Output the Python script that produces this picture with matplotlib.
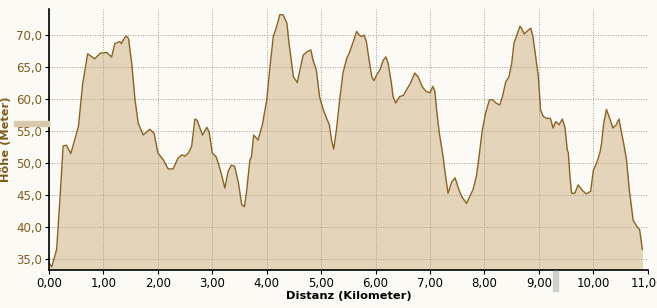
import numpy as np
import matplotlib.pyplot as plt
from matplotlib.patches import Rectangle

# distance (km) and elevation (m)
dist_km = [0.00, 0.05, 0.14, 0.20, 0.26, 0.32, 0.40, 0.54, 0.62, 0.71, 0.84, 0.94,
           1.06, 1.15, 1.21, 1.30, 1.33, 1.41, 1.46, 1.52, 1.58, 1.64, 1.73, 1.85,
           1.93, 2.00, 2.10, 2.19, 2.28, 2.37, 2.44, 2.50, 2.56, 2.62, 2.68, 2.72,
           2.82, 2.90, 2.94, 3.00, 3.07, 3.11, 3.17, 3.23, 3.29, 3.35, 3.41, 3.48,
           3.54, 3.59, 3.63, 3.69, 3.72, 3.76, 3.84, 3.92, 4.00, 4.06, 4.12, 4.18,
           4.24, 4.30, 4.37, 4.41, 4.49, 4.56, 4.61, 4.67, 4.74, 4.81, 4.85, 4.91,
           4.97, 5.04, 5.10, 5.15, 5.19, 5.23, 5.28, 5.34, 5.40, 5.47, 5.52, 5.59,
           5.65, 5.70, 5.74, 5.79, 5.83, 5.88, 5.93, 5.97, 6.02, 6.08, 6.14, 6.19,
           6.23, 6.29, 6.32, 6.37, 6.44, 6.51, 6.57, 6.64, 6.72, 6.78, 6.86, 6.93,
           7.00, 7.05, 7.09, 7.12, 7.17, 7.21, 7.24, 7.27, 7.33, 7.40, 7.46, 7.52,
           7.58, 7.67, 7.73, 7.79, 7.85, 7.90, 7.96, 8.02, 8.09, 8.15, 8.21, 8.28,
           8.33, 8.39, 8.45, 8.50, 8.54, 8.59, 8.65, 8.68, 8.73, 8.78, 8.85, 8.89,
           8.94, 8.99, 9.03, 9.08, 9.14, 9.21, 9.26, 9.31, 9.37, 9.43, 9.48, 9.52,
           9.54, 9.57, 9.60, 9.66, 9.72, 9.79, 9.87, 9.95, 10.00, 10.06, 10.12, 10.15,
           10.19, 10.24, 10.30, 10.36, 10.42, 10.47, 10.52, 10.56, 10.61, 10.66, 10.68, 10.73,
           10.80, 10.85, 10.90]
elev_m = [34.4, 33.8, 36.5, 44.3, 52.7, 52.8, 51.5, 55.7, 62.5, 67.1, 66.3, 67.2,
          67.3, 66.6, 68.7, 69.0, 68.7, 69.9, 69.5, 65.6, 59.9, 56.2, 54.4, 55.3,
          54.7, 51.6, 50.5, 49.1, 49.1, 50.8, 51.3, 51.1, 51.6, 52.6, 56.9, 56.7,
          54.4, 55.6, 54.9, 51.6, 51.0, 50.0, 48.2, 46.1, 48.7, 49.7, 49.5, 46.9,
          43.5, 43.2, 45.6, 50.5, 51.0, 54.4, 53.6, 56.0, 59.9, 65.1, 69.8, 71.3,
          73.2, 73.2, 71.9, 68.7, 63.5, 62.6, 64.6, 66.9, 67.4, 67.7, 66.1, 64.6,
          60.4, 58.3, 57.0, 56.0, 53.6, 52.2, 55.2, 59.9, 64.1, 66.4, 67.3, 69.0,
          70.6, 70.0, 69.8, 70.0, 69.0, 66.1, 63.5, 62.9, 63.8, 64.6, 66.1, 66.6,
          65.6, 62.5, 60.4, 59.4, 60.4, 60.6, 61.5, 62.5, 64.1, 63.5, 61.9, 61.2,
          61.0, 62.0, 61.2, 58.3, 54.7, 52.6, 51.0, 48.9, 45.3, 47.1, 47.7, 46.1,
          44.8, 43.7, 44.8, 45.9, 47.9, 51.0, 55.2, 57.8, 59.9, 59.9, 59.4, 59.1,
          60.4, 62.7, 63.5, 65.6, 68.7, 69.9, 71.4, 71.1, 70.2, 70.6, 71.1, 69.8,
          66.7, 63.5, 58.3, 57.3, 57.0, 57.0, 55.5, 56.5, 56.0, 56.9, 55.5, 52.1,
          51.6, 47.9, 45.3, 45.3, 46.6, 45.8, 45.2, 45.6, 48.9, 50.0, 51.6, 53.1,
          56.2, 58.4, 57.0, 55.5, 56.0, 56.9, 54.7, 52.9, 50.5, 45.8, 44.5, 41.1,
          40.1, 39.6, 36.5]

x_ticks = [0, 1, 2, 3, 4, 5, 6, 7, 8, 9, 10, 11]
y_ticks = [35, 40, 45, 50, 55, 60, 65, 70]

bg = '#FCFAF4'
fill_col = '#E3D4BA'
line_col = '#8A6226'
brown_txt = '#7D5C1E'
grid_col = '#A49C8C'

fig = plt.figure(figsize=(6.57, 3.08), dpi=100, facecolor=bg)
ax = fig.add_axes([0.0746, 0.1234, 0.9114, 0.8474])
ax.set_facecolor(bg)

ax.fill_between(dist_km, elev_m, 33.3, color=fill_col, lw=0, zorder=1)
ax.plot(dist_km, elev_m, color=line_col, lw=1.0, zorder=3)

ax.set_xlim(0, 11)
ax.set_ylim(33.3, 74.1)
ax.set_xticks(x_ticks, [f"{t:.2f}".replace('.', ',') for t in x_ticks])
ax.set_yticks(y_ticks, [f"{t:.1f}".replace('.', ',') for t in y_ticks])
ax.grid(True, color=grid_col, linestyle=(0, (1, 1.6)), lw=0.7, zorder=2)
ax.set_axisbelow(False)

for s in ['top', 'right']:
    ax.spines[s].set_visible(False)
for s in ['left', 'bottom']:
    ax.spines[s].set_color('black')
    ax.spines[s].set_linewidth(1.2)
    ax.spines[s].set_zorder(4)

ax.tick_params(axis='x', colors='black', labelsize=8.5, length=3, pad=2)
ax.tick_params(axis='y', colors='black', labelcolor=brown_txt, labelsize=8.5, length=3, pad=2)

ax.set_xlabel("Distanz (Kilometer)", fontsize=8.2, fontweight='bold', color='black', labelpad=1)
ax.set_ylabel("Höhe (Meter)", fontsize=8.2, fontweight='bold', color=brown_txt, labelpad=4)

# cursor markers on the axes
fig.patches.append(Rectangle((553 / 657, 1 - 291 / 308), 5 / 657, 20 / 308,
                             transform=fig.transFigure, color='#CFCFCF', zorder=5))
fig.patches.append(Rectangle((14 / 657, 1 - 126 / 308), 35 / 657, 5 / 308,
                             transform=fig.transFigure, color='#D9C9AC', zorder=5))

plt.savefig("out.png", facecolor=bg)
